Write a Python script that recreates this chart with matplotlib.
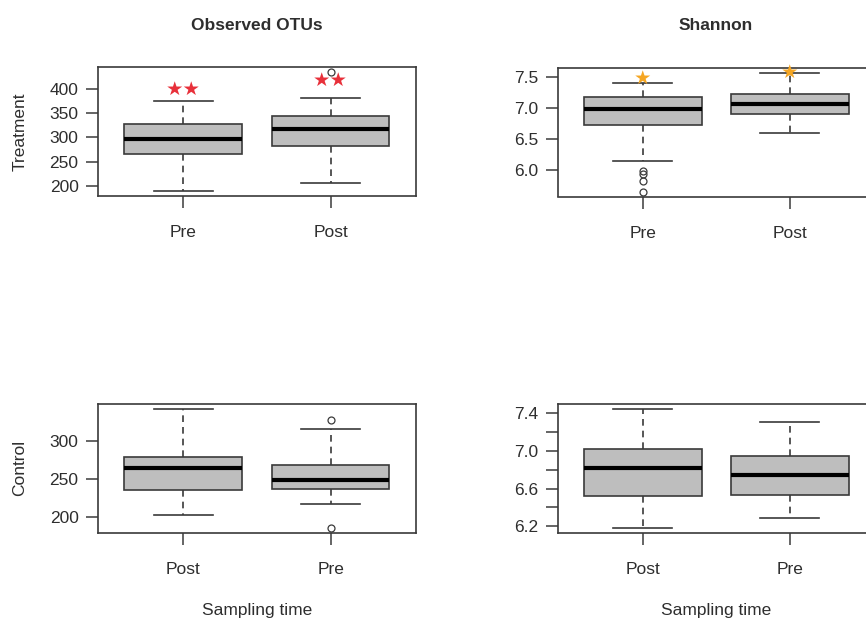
import matplotlib
matplotlib.use("Agg")
import matplotlib.pyplot as plt
import numpy as np

plt.rcParams['font.family'] = ['Liberation Sans', 'DejaVu Sans']

# ---------------- data ----------------
# Observed OTUs, Treatment (order: Pre, Post)
otu_trt_labels = ["Pre", "Post"]
otu_trt_whislo = [188.5, 205.5]
otu_trt_q1 = [266.5, 283.0]
otu_trt_med = [296.0, 316.5]
otu_trt_q3 = [327.5, 344.5]
otu_trt_whishi = [375.0, 381.0]
otu_trt_fliers = [[], [436.0]]
otu_trt_stars = ["★★", "★★"]
otu_trt_star_y = [400.0, 418.0]
otu_trt_ticks = [200, 250, 300, 350, 400]
otu_trt_ticklabels = ["200", "250", "300", "350", "400"]

# Shannon, Treatment (order: Pre, Post)
sha_trt_labels = ["Pre", "Post"]
sha_trt_whislo = [6.145, 6.60]
sha_trt_q1 = [6.73, 6.895]
sha_trt_med = [6.98, 7.07]
sha_trt_q3 = [7.18, 7.23]
sha_trt_whishi = [7.41, 7.57]
sha_trt_fliers = [[5.985, 5.94, 5.82, 5.645], []]
sha_trt_stars = ["★", "★"]
sha_trt_star_y = [7.48, 7.575]
sha_trt_ticks = [6.0, 6.5, 7.0, 7.5]
sha_trt_ticklabels = ["6.0", "6.5", "7.0", "7.5"]

# Observed OTUs, Control (order: Post, Pre)
otu_ctl_labels = ["Post", "Pre"]
otu_ctl_whislo = [203.0, 216.5]
otu_ctl_q1 = [235.5, 237.0]
otu_ctl_med = [265.0, 248.5]
otu_ctl_q3 = [279.5, 268.0]
otu_ctl_whishi = [343.0, 316.5]
otu_ctl_fliers = [[], [328.5, 185.5]]
otu_ctl_ticks = [200, 250, 300]
otu_ctl_ticklabels = ["200", "250", "300"]

# Shannon, Control (order: Post, Pre)
sha_ctl_labels = ["Post", "Pre"]
sha_ctl_whislo = [6.18, 6.285]
sha_ctl_q1 = [6.52, 6.535]
sha_ctl_med = [6.82, 6.745]
sha_ctl_q3 = [7.025, 6.95]
sha_ctl_whishi = [7.447, 7.312]
sha_ctl_fliers = [[], []]
sha_ctl_ticks = [6.2, 6.4, 6.6, 6.8, 7.0, 7.2, 7.4]
sha_ctl_ticklabels = ["6.2", "", "6.6", "", "7.0", "", "7.4"]

col_titles = ["Observed OTUs", "Shannon"]
row_titles = ["Treatment", "Control"]
xlabel_text = "Sampling time"

# ---------------- style ----------------
W, H = 866, 624
DPI = 100
TXT = '#2e2e2e'
FRAME = '#3a3a3a'
BOXFILL = '#bebebe'
RED = '#e8303a'
ORANGE = '#f5a623'
FS = 12.5

fig = plt.figure(figsize=(W / DPI, H / DPI), dpi=DPI)


def px_axes(x0, y0, x1, y1):
    return fig.add_axes([x0 / W, 1 - y1 / H, (x1 - x0) / W, (y1 - y0) / H])


def make_stats(labels, lo, q1, med, q3, hi, fl):
    stats = []
    for i in range(len(labels)):
        stats.append(dict(label=labels[i], whislo=lo[i], q1=q1[i], med=med[i],
                          q3=q3[i], whishi=hi[i], fliers=np.array(fl[i])))
    return stats


def draw(ax, labels, lo, q1, med, q3, hi, fl, ticks, ticklabels):
    stats = make_stats(labels, lo, q1, med, q3, hi, fl)
    ax.bxp(stats, positions=[1, 2], widths=0.8, patch_artist=True,
           boxprops=dict(facecolor=BOXFILL, edgecolor=FRAME, linewidth=1.2),
           medianprops=dict(color='black', linewidth=3.0, solid_capstyle='butt'),
           whiskerprops=dict(color=FRAME, linewidth=1.2, linestyle=(0, (4, 3))),
           capprops=dict(color=FRAME, linewidth=1.2),
           flierprops=dict(marker='o', markersize=5, markerfacecolor='none',
                           markeredgecolor=FRAME, markeredgewidth=0.9),
           manage_ticks=False)
    allv = list(lo) + list(hi) + [v for f in fl for v in f]
    vmin, vmax = min(allv), max(allv)
    pad = 0.04 * (vmax - vmin)
    ax.set_ylim(vmin - pad, vmax + pad)
    ax.set_xlim(0.42, 2.58)
    ax.set_xticks([1, 2])
    ax.set_xticklabels(labels)
    ax.set_yticks(ticks)
    ax.set_yticklabels(ticklabels)
    ax.tick_params(axis='both', direction='out', length=8.5, width=1.1,
                   color=FRAME, labelcolor=TXT, labelsize=FS)
    ax.tick_params(axis='y', pad=5.5)
    ax.tick_params(axis='x', pad=12.5)
    for s in ax.spines.values():
        s.set_color(FRAME)
        s.set_linewidth(1.2)


# Top-left
ax1 = px_axes(98, 67, 416, 196)
draw(ax1, otu_trt_labels, otu_trt_whislo, otu_trt_q1, otu_trt_med, otu_trt_q3,
     otu_trt_whishi, otu_trt_fliers, otu_trt_ticks, otu_trt_ticklabels)
for i, (s, y) in enumerate(zip(otu_trt_stars, otu_trt_star_y)):
    ax1.text(i + 1, y, s, color=RED, fontsize=14, ha='center', va='center',
             family='DejaVu Sans')

# Top-right
ax2 = px_axes(557.5, 68, 875, 196.5)
draw(ax2, sha_trt_labels, sha_trt_whislo, sha_trt_q1, sha_trt_med, sha_trt_q3,
     sha_trt_whishi, sha_trt_fliers, sha_trt_ticks, sha_trt_ticklabels)
for i, (s, y) in enumerate(zip(sha_trt_stars, sha_trt_star_y)):
    ax2.text(i + 1, y, s, color=ORANGE, fontsize=14, ha='center', va='center',
             family='DejaVu Sans')

# Bottom-left
ax3 = px_axes(98, 404, 416, 532.5)
draw(ax3, otu_ctl_labels, otu_ctl_whislo, otu_ctl_q1, otu_ctl_med, otu_ctl_q3,
     otu_ctl_whishi, otu_ctl_fliers, otu_ctl_ticks, otu_ctl_ticklabels)

# Bottom-right
ax4 = px_axes(557.5, 404, 875, 533)
draw(ax4, sha_ctl_labels, sha_ctl_whislo, sha_ctl_q1, sha_ctl_med, sha_ctl_q3,
     sha_ctl_whishi, sha_ctl_fliers, sha_ctl_ticks, sha_ctl_ticklabels)

# Titles and labels
fig.text(257 / W, 1 - 26 / H, col_titles[0], ha='center', va='center',
         fontsize=FS, fontweight='bold', color=TXT)
fig.text(716 / W, 1 - 26 / H, col_titles[1], ha='center', va='center',
         fontsize=FS, fontweight='bold', color=TXT)
fig.text(20 / W, 1 - 132 / H, row_titles[0], ha='center', va='center',
         rotation=90, fontsize=FS, color=TXT)
fig.text(20 / W, 1 - 468 / H, row_titles[1], ha='center', va='center',
         rotation=90, fontsize=FS, color=TXT)
fig.text(257 / W, 1 - 611 / H, xlabel_text, ha='center', va='center',
         fontsize=FS, color=TXT)
fig.text(716 / W, 1 - 611 / H, xlabel_text, ha='center', va='center',
         fontsize=FS, color=TXT)

fig.savefig("out.png", dpi=DPI)
